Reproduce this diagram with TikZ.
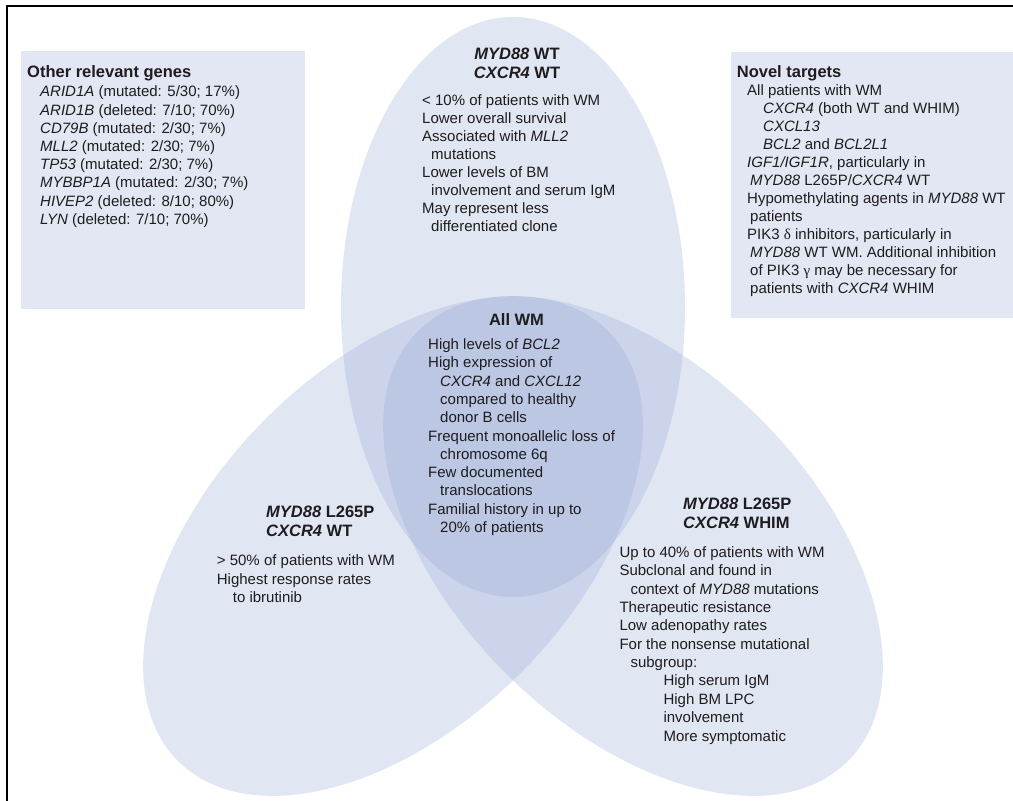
\documentclass[tikz,border=0pt]{standalone}
\usepackage{fontspec}
\setmainfont{Liberation Sans}
\newfontfamily\grk{Liberation Serif}
\definecolor{ellc}{RGB}{148,166,212}
\definecolor{boxc}{RGB}{226,231,243}
\definecolor{txt}{RGB}{30,28,30}
\begin{document}
\begin{tikzpicture}[x=1pt,y=-1pt,
  ell/.style={fill=ellc, fill opacity=0.28},
  body/.style={font=\fontsize{15}{18}\selectfont, anchor=base west, inner sep=0pt, text=txt},
  headc/.style={font=\fontsize{16.5}{19}\selectfont\bfseries, anchor=base, inner sep=0pt, text=txt},
  headl/.style={headc, anchor=base west},
  panel/.style={fill=boxc},
  frameline/.style={line width=1.5pt, draw=black}]
\useasboundingbox (0,0) rectangle (1013,801);
\fill[white] (0,0) rectangle (1013,801);
% frame (only top and left visible)
\draw[frameline] (7,801) -- (7,6) -- (1013,6);
% side panels
\fill[panel] (21,51) rectangle (305,309);
\fill[panel] (731,52) rectangle (1013,318);
% three ellipses
\fill[ell] (513,307) ellipse [x radius=172pt, y radius=290pt];
\begin{scope}[shift={(393,546)}, rotate=45]
  \fill[ell] (0,0) ellipse [x radius=304pt, y radius=180pt];
\end{scope}
\begin{scope}[shift={(633,546)}, rotate=-45]
  \fill[ell] (0,0) ellipse [x radius=304pt, y radius=180pt];
\end{scope}

% left panel
\node[headl] (og-h) at (27,77.3) {Other relevant genes};
\foreach \t [count=\i from 0] in {
  {\textit{ARID1A} (mutated: 5/30; 17\%)},
  {\textit{ARID1B} (deleted: 7/10; 70\%)},
  {\textit{CD79B} (mutated: 2/30; 7\%)},
  {\textit{MLL2} (mutated: 2/30; 7\%)},
  {\textit{TP53} (mutated: 2/30; 7\%)},
  {\textit{MYBBP1A} (mutated: 2/30; 7\%)},
  {\textit{HIVEP2} (deleted: 8/10; 80\%)},
  {\textit{LYN} (deleted: 7/10; 70\%)}}
  \node[body] (og-\i) at (40,{96.8+18.2*\i}) {\t};

% right panel
\node[headl] (nt-h) at (736.7,77.3) {Novel targets};
\foreach \t [count=\i from 0] in {
  {All patients with WM},
  {\hspace*{16pt}\textit{CXCR4} (both WT and WHIM)},
  {\hspace*{16pt}\textit{CXCL13}},
  {\hspace*{16pt}\textit{BCL2} and \textit{BCL2L1}},
  {\textit{IGF1/IGF1R}, particularly in},
  {\hspace*{3pt}\textit{MYD88} L265P/\textit{CXCR4} WT},
  {Hypomethylating agents in \textit{MYD88} WT},
  {\hspace*{3pt}patients},
  {PIK3 {\grk δ} inhibitors, particularly in},
  {\hspace*{3pt}\textit{MYD88} WT WM. Additional inhibition},
  {\hspace*{3pt}of PIK3 {\grk γ} may be necessary for},
  {\hspace*{3pt}patients with \textit{CXCR4} WHIM}}
  \node[body] (nt-\i) at (747,{95+18*\i}) {\t};

% top ellipse
\node[headc] (wt-h1) at (517,59.5) {\textit{MYD88} WT};
\node[headc] (wt-h2) at (517,78) {\textit{CXCR4} WT};
\foreach \t [count=\i from 0] in {
  {< 10\% of patients with WM},
  {Lower overall survival},
  {Associated with \textit{MLL2}},
  {\hspace*{9pt}mutations},
  {Lower levels of BM},
  {\hspace*{9pt}involvement and serum IgM},
  {May represent less},
  {\hspace*{9pt}differentiated clone}}
  \node[body] (wt-\i) at (422,{105.5+18*\i}) {\t};

% centre
\node[headc] (all-h) at (516.5,325) {All WM};
\foreach \t [count=\i from 0] in {
  {High levels of \textit{BCL2}},
  {High expression of},
  {\hspace*{12pt}\textit{CXCR4} and \textit{CXCL12}},
  {\hspace*{12pt}compared to healthy},
  {\hspace*{12pt}donor B cells},
  {Frequent monoallelic loss of},
  {\hspace*{12pt}chromosome 6q},
  {Few documented},
  {\hspace*{12pt}translocations},
  {Familial history in up to},
  {\hspace*{12pt}20\% of patients}}
  \node[body] (all-\i) at (428,{349.5+18.3*\i}) {\t};

% left ellipse
\node[headl] (lp-h1) at (266,517) {\textit{MYD88} L265P};
\node[headl] (lp-h2) at (266,536) {\textit{CXCR4} WT};
\foreach \t [count=\i from 0] in {
  {> 50\% of patients with WM},
  {Highest response rates},
  {\hspace*{16pt}to ibrutinib}}
  \node[body] (lp-\i) at (216.7,{565.5+18.5*\i}) {\t};

% right ellipse
\node[headl] (rp-h1) at (683,509) {\textit{MYD88} L265P};
\node[headl] (rp-h2) at (683,528) {\textit{CXCR4} WHIM};
\foreach \t [count=\i from 0] in {
  {Up to 40\% of patients with WM},
  {Subclonal and found in},
  {\hspace*{11pt}context of \textit{MYD88} mutations},
  {Therapeutic resistance},
  {Low adenopathy rates},
  {For the nonsense mutational},
  {\hspace*{11pt}subgroup:},
  {\hspace*{44pt}High serum IgM},
  {\hspace*{44pt}High BM LPC},
  {\hspace*{44pt}involvement},
  {\hspace*{44pt}More symptomatic}}
  \node[body] (rp-\i) at (619.3,{557.5+18.35*\i}) {\t};
\end{tikzpicture}
\end{document}
